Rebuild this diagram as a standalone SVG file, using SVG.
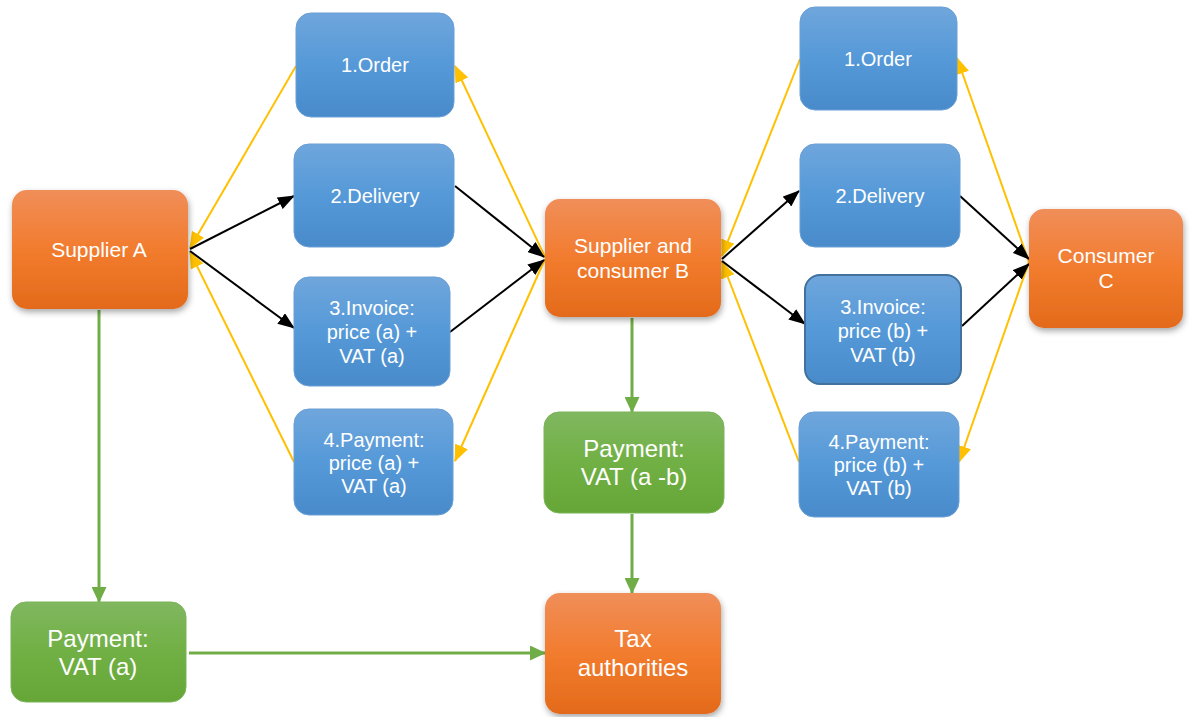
<svg xmlns="http://www.w3.org/2000/svg" width="1194" height="717" viewBox="0 0 1194 717">
  <defs>
    <linearGradient id="gBlue" x1="0" y1="0" x2="0" y2="1">
      <stop offset="0" stop-color="#6fa6dc"/>
      <stop offset="0.5" stop-color="#5599d8"/>
      <stop offset="1" stop-color="#498bca"/>
    </linearGradient>
    <linearGradient id="gOrange" x1="0" y1="0" x2="0" y2="1">
      <stop offset="0" stop-color="#f08e59"/>
      <stop offset="0.5" stop-color="#f27c2e"/>
      <stop offset="1" stop-color="#e36a1a"/>
    </linearGradient>
    <linearGradient id="gGreen" x1="0" y1="0" x2="0" y2="1">
      <stop offset="0" stop-color="#80b760"/>
      <stop offset="0.5" stop-color="#71b044"/>
      <stop offset="1" stop-color="#66a637"/>
    </linearGradient>
    <filter id="shadow" x="-10%" y="-10%" width="125%" height="130%">
      <feDropShadow dx="1" dy="3" stdDeviation="3" flood-color="#000" flood-opacity="0.35"/>
    </filter>
    <marker id="arrBlack" markerUnits="userSpaceOnUse" markerWidth="17" markerHeight="13" refX="16" refY="6.5" orient="auto">
      <path d="M0,0 L17,6.5 L0,13 z" fill="#000"/>
    </marker>
    <marker id="arrYellow" markerUnits="userSpaceOnUse" markerWidth="17" markerHeight="14" refX="16" refY="7" orient="auto">
      <path d="M0,0 L17,7 L0,14 z" fill="#ffc000"/>
    </marker>
    <marker id="arrGreen" markerUnits="userSpaceOnUse" markerWidth="16" markerHeight="15" refX="15" refY="7.5" orient="auto">
      <path d="M0,0 L16,7.5 L0,15 z" fill="#70ad47"/>
    </marker>
  </defs>
  <style>
    .blue { fill: url(#gBlue); stroke: #6a9fd6; stroke-width: 1; }
    .blue-b { fill: url(#gBlue); stroke: #41719c; stroke-width: 2; }
    .orange { fill: url(#gOrange); filter: url(#shadow); }
    .green { fill: url(#gGreen); stroke: #7ab458; stroke-width: 1; }
    text { font-family: "Liberation Sans", Arial, sans-serif; fill: #fff; text-anchor: middle; }
    .t20 { font-size: 20px; }
    .t21 { font-size: 21px; }
    .t24 { font-size: 24px; }
    .y { stroke: #ffc000; stroke-width: 2; fill: none; marker-end: url(#arrYellow); }
    .k { stroke: #000; stroke-width: 2; fill: none; marker-end: url(#arrBlack); }
    .g { stroke: #70ad47; stroke-width: 3; fill: none; marker-end: url(#arrGreen); }
  </style>

  <!-- connectors -->
  <g id="connectors">
    <!-- order / payment flows (yellow) -->
    <line class="y" x1="296" y1="66" x2="190" y2="248"/>
    <line class="y" x1="294" y1="462" x2="190" y2="252"/>
    <line class="y" x1="545" y1="257" x2="455" y2="66"/>
    <line class="y" x1="545" y1="259" x2="455" y2="461"/>
    <line class="y" x1="800" y1="59" x2="722" y2="256"/>
    <line class="y" x1="799" y1="462" x2="722" y2="262"/>
    <line class="y" x1="1029" y1="262" x2="957" y2="58"/>
    <line class="y" x1="1029" y1="262" x2="959" y2="462"/>
    <!-- delivery / invoice flows (black) -->
    <line class="k" x1="190" y1="249" x2="294" y2="196"/>
    <line class="k" x1="190" y1="251" x2="294" y2="328"/>
    <line class="k" x1="455" y1="186" x2="544" y2="257"/>
    <line class="k" x1="450" y1="332" x2="544" y2="260"/>
    <line class="k" x1="722" y1="259" x2="799" y2="191"/>
    <line class="k" x1="722" y1="261" x2="805" y2="324"/>
    <line class="k" x1="960" y1="196" x2="1029" y2="259"/>
    <line class="k" x1="962" y1="326" x2="1029" y2="264"/>
    <!-- VAT flows (green) -->
    <line class="g" x1="99" y1="310" x2="99" y2="602"/>
    <line class="g" x1="632" y1="318" x2="632" y2="412"/>
    <line class="g" x1="632" y1="514" x2="632" y2="593"/>
    <line class="g" x1="189" y1="653" x2="545" y2="653"/>
  </g>

  <!-- nodes -->
  <g id="supplierA">
    <rect class="orange" x="12" y="190" width="176" height="119" rx="15"/>
    <text class="t21" x="99" y="257">Supplier A</text>
  </g>

  <g id="orderA">
    <rect class="blue" x="296" y="13" width="158" height="104" rx="15"/>
    <text class="t20" x="375" y="72">1.Order</text>
  </g>
  <g id="deliveryA">
    <rect class="blue" x="294" y="144" width="160" height="103" rx="15"/>
    <text class="t20" x="375" y="203">2.Delivery</text>
  </g>
  <g id="invoiceA">
    <rect class="blue" x="294" y="277" width="156" height="109" rx="15"/>
    <text class="t20" x="372" y="315">3.Invoice:</text>
    <text class="t20" x="372" y="339">price (a) +</text>
    <text class="t20" x="372" y="363">VAT (a)</text>
  </g>
  <g id="paymentA">
    <rect class="blue" x="294" y="409" width="159" height="106" rx="15"/>
    <text class="t20" x="374" y="447">4.Payment:</text>
    <text class="t20" x="374" y="470">price (a) +</text>
    <text class="t20" x="374" y="493">VAT (a)</text>
  </g>

  <g id="supplierConsumerB">
    <rect class="orange" x="545" y="199" width="176" height="118" rx="15"/>
    <text class="t21" x="633" y="253">Supplier and</text>
    <text class="t21" x="633" y="278">consumer B</text>
  </g>

  <g id="orderB">
    <rect class="blue" x="800" y="7" width="157" height="103" rx="15"/>
    <text class="t20" x="878" y="66">1.Order</text>
  </g>
  <g id="deliveryB">
    <rect class="blue" x="800" y="144" width="160" height="103" rx="15"/>
    <text class="t20" x="880" y="203">2.Delivery</text>
  </g>
  <g id="invoiceB">
    <rect class="blue-b" x="805" y="275" width="156" height="109" rx="15"/>
    <text class="t20" x="883" y="314">3.Invoice:</text>
    <text class="t20" x="883" y="338">price (b) +</text>
    <text class="t20" x="883" y="362">VAT (b)</text>
  </g>
  <g id="paymentB">
    <rect class="blue" x="799" y="412" width="160" height="105" rx="15"/>
    <text class="t20" x="879" y="449">4.Payment:</text>
    <text class="t20" x="879" y="472">price (b) +</text>
    <text class="t20" x="879" y="495">VAT (b)</text>
  </g>

  <g id="consumerC">
    <rect class="orange" x="1029" y="209" width="154" height="119" rx="15"/>
    <text class="t21" x="1106" y="263">Consumer</text>
    <text class="t21" x="1106" y="288">C</text>
  </g>

  <g id="vatPaymentA">
    <rect class="green" x="11" y="602" width="175" height="100" rx="15"/>
    <text class="t24" x="98" y="647">Payment:</text>
    <text class="t24" x="98" y="675">VAT (a)</text>
  </g>

  <g id="vatPaymentB">
    <rect class="green" x="544" y="412" width="180" height="101" rx="15"/>
    <text class="t24" x="634" y="457">Payment:</text>
    <text class="t24" x="634" y="485">VAT (a -b)</text>
  </g>

  <g id="taxAuthorities">
    <rect class="orange" x="545" y="593" width="176" height="121" rx="15"/>
    <text class="t24" x="633" y="647">Tax</text>
    <text class="t24" x="633" y="676">authorities</text>
  </g>
</svg>
